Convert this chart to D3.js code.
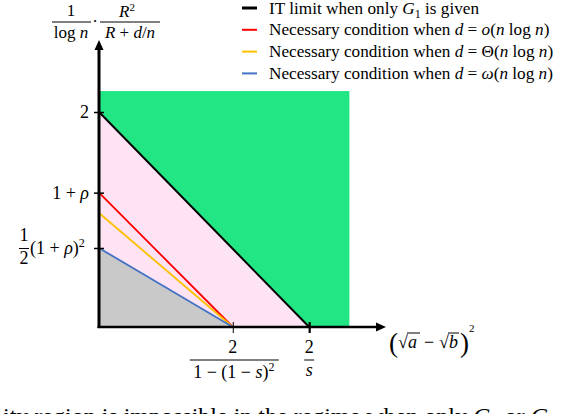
<!DOCTYPE html>
<html>
<head>
<meta charset="utf-8">
<script src="https://cdn.jsdelivr.net/npm/d3@7"></script>
<style>
  html, body { margin: 0; padding: 0; background: #fff; }
  svg { display: block; font-family: "Liberation Serif", "DejaVu Serif", serif; }
  .it { font-style: italic; }
</style>
</head>
<body>
<svg id="chart" width="588" height="414"></svg>
<script>
// ---------- data ----------
const xTickValues = [2.96, 4.65];            // 2/(1-(1-s)^2), 2/s
const yTickValues = [2, 1.25, 0.735];        // 2, 1+rho, 1/2(1+rho)^2
const lineNames = ["IT limit", "o(n log n)", "Theta(n log n)", "omega(n log n)"];
const lineStartY = [2, 1.25, 1.06, 0.735];   // intercept on y axis
const lineEndX = [4.65, 2.96, 2.96, 2.96];   // intercept on x axis
const lineColors = ["#000000", "#ff0000", "#ffc000", "#4472c4"];
const feasibleX = 5.54, feasibleY = 2.195;   // green region extent
const xMax = 6.35, yMax = 2.67;              // axis arrow ends
const legendLabels = [
  'IT limit when only <tspan class="it">G</tspan><tspan font-size="12" dy="4">1</tspan><tspan dy="-4"> is given</tspan>',
  'Necessary condition when <tspan class="it">d</tspan> = <tspan class="it">o</tspan>(<tspan class="it">n</tspan> log <tspan class="it">n</tspan>)',
  'Necessary condition when <tspan class="it">d</tspan> = Θ(<tspan class="it">n</tspan> log <tspan class="it">n</tspan>)',
  'Necessary condition when <tspan class="it">d</tspan> = <tspan class="it">ω</tspan>(<tspan class="it">n</tspan> log <tspan class="it">n</tspan>)'
];

// ---------- scales ----------
const svg = d3.select("#chart");
const x = d3.scaleLinear().domain([0, xMax]).range([99, 386]);
const y = d3.scaleLinear().domain([0, yMax]).range([327, 40]);

// ---------- regions ----------
svg.append("rect")
  .attr("x", x(0)).attr("y", y(feasibleY))
  .attr("width", x(feasibleX) - x(0)).attr("height", y(0) - y(feasibleY))
  .attr("fill", "#22e584");
const tri = (y0, x1) => d3.line()([[x(0), y(y0)], [x(x1), y(0)], [x(0), y(0)]]) + "Z";
svg.append("path").attr("d", tri(lineStartY[0], lineEndX[0])).attr("fill", "#fde3f4");
svg.append("path").attr("d", tri(lineStartY[3], lineEndX[3])).attr("fill", "#c9c9c9");

// ---------- boundary lines ----------
lineNames.forEach((n, i) => {
  svg.append("line")
    .attr("x1", x(0)).attr("y1", y(lineStartY[i]))
    .attr("x2", x(lineEndX[i])).attr("y2", y(0))
    .attr("stroke", lineColors[i]).attr("stroke-width", i === 0 ? 2 : 1.8);
});

// ---------- axes ----------
const yAxis = d3.axisLeft(y).tickValues(yTickValues).tickFormat("").tickSizeOuter(0).tickSize(5);
const gy = svg.append("g").attr("transform", `translate(${x(0)},0)`).call(yAxis);
gy.select(".domain").remove();
gy.selectAll(".tick line").attr("x1", 5).attr("x2", -5).attr("stroke", "#000").attr("stroke-width", 1.5);

const xAxis = d3.axisBottom(x).tickValues(xTickValues).tickFormat("").tickSizeOuter(0).tickSize(6);
const gx = svg.append("g").attr("transform", `translate(0,${y(0)})`).call(xAxis);
gx.select(".domain").remove();
gx.selectAll(".tick line").attr("y1", -5).attr("y2", 6).attr("stroke", "#000")
  .attr("stroke-width", (d, i) => i === 0 ? 1 : 2.2);

// axis lines with arrows
svg.append("line").attr("x1", x(0)).attr("y1", y(0) + 1).attr("x2", x(0)).attr("y2", y(yMax) + 8)
  .attr("stroke", "#000").attr("stroke-width", 3);
svg.append("path")
  .attr("d", `M${x(0)},${y(yMax)} L${x(0) - 4.5},${y(yMax) + 10} L${x(0) + 4.5},${y(yMax) + 10} Z`)
  .attr("fill", "#000");
svg.append("line").attr("x1", x(0) - 1.5).attr("y1", y(0)).attr("x2", x(xMax) - 8).attr("y2", y(0))
  .attr("stroke", "#000").attr("stroke-width", 2.5);
svg.append("path")
  .attr("d", `M${x(xMax)},${y(0)} L${x(xMax) - 10},${y(0) - 4.5} L${x(xMax) - 10},${y(0) + 4.5} Z`)
  .attr("fill", "#000");

// ---------- tick labels ----------
const fs = 18;
svg.append("text").attr("x", 89).attr("y", y(yTickValues[0]) + 6).attr("text-anchor", "end")
  .attr("font-size", fs).text("2");
svg.append("text").attr("x", 89).attr("y", y(yTickValues[1]) + 6).attr("text-anchor", "end")
  .attr("font-size", fs).html('1 + <tspan class="it">ρ</tspan>');
// 1/2 (1+rho)^2
const yh = y(yTickValues[2]);
svg.append("text").attr("x", 24).attr("y", yh - 7).attr("text-anchor", "middle").attr("font-size", fs).text("1");
svg.append("line").attr("x1", 19).attr("x2", 29).attr("y1", yh + 0.5).attr("y2", yh + 0.5).attr("stroke", "#000").attr("stroke-width", 1);
svg.append("text").attr("x", 24).attr("y", yh + 16).attr("text-anchor", "middle").attr("font-size", fs).text("2");
svg.append("text").attr("x", 30).attr("y", yh + 6).attr("font-size", fs)
  .html('(1 + <tspan class="it">ρ</tspan>)<tspan font-size="12" dy="-7">2</tspan>');

// x labels
const xi = x(xTickValues[0]), xo = x(xTickValues[1]);
svg.append("text").attr("x", xi).attr("y", 353).attr("text-anchor", "middle").attr("font-size", fs).text("2");
svg.append("line").attr("x1", xi - 43).attr("x2", xi + 46).attr("y1", 360).attr("y2", 360).attr("stroke", "#000").attr("stroke-width", 1);
svg.append("text").attr("x", xi + 1).attr("y", 378).attr("text-anchor", "middle").attr("font-size", fs)
  .html('1 − (1 − <tspan class="it">s</tspan>)<tspan font-size="12" dy="-7">2</tspan>');
svg.append("text").attr("x", xo).attr("y", 353).attr("text-anchor", "middle").attr("font-size", fs).text("2");
svg.append("line").attr("x1", xo - 5).attr("x2", xo + 5).attr("y1", 360).attr("y2", 360).attr("stroke", "#000").attr("stroke-width", 1);
svg.append("text").attr("x", xo).attr("y", 376).attr("text-anchor", "middle").attr("font-size", fs)
  .attr("class", "it").text("s");

// x axis title (sqrt a - sqrt b)^2
const xt = svg.append("g");
xt.append("text").attr("x", 389).attr("y", 352).attr("font-size", 27).attr("font-weight", 200).text("(");
xt.append("text").attr("x", 398).attr("y", 348).attr("font-size", fs).text("√");
xt.append("line").attr("x1", 407).attr("x2", 420).attr("y1", 333).attr("y2", 333).attr("stroke", "#000").attr("stroke-width", 1);
xt.append("text").attr("x", 408).attr("y", 348).attr("font-size", fs).attr("class", "it").text("a");
xt.append("text").attr("x", 424).attr("y", 348).attr("font-size", fs).text("−");
xt.append("text").attr("x", 439).attr("y", 348).attr("font-size", fs).text("√");
xt.append("line").attr("x1", 448).attr("x2", 459).attr("y1", 333).attr("y2", 333).attr("stroke", "#000").attr("stroke-width", 1);
xt.append("text").attr("x", 449).attr("y", 348).attr("font-size", fs).attr("class", "it").text("b");
xt.append("text").attr("x", 460).attr("y", 352).attr("font-size", 27).attr("font-weight", 200).text(")");
xt.append("text").attr("x", 469).attr("y", 332).attr("font-size", 11).text("2");

// y axis title 1/log n · R^2/(R + d/n)
const yt = svg.append("g");
yt.append("text").attr("x", 71).attr("y", 16).attr("text-anchor", "middle").attr("font-size", 17).text("1");
yt.append("line").attr("x1", 52).attr("x2", 91).attr("y1", 22).attr("y2", 22).attr("stroke", "#000").attr("stroke-width", 1);
yt.append("text").attr("x", 71).attr("y", 38).attr("text-anchor", "middle").attr("font-size", 17)
  .html('log <tspan class="it">n</tspan>');
yt.append("text").attr("x", 95).attr("y", 27).attr("text-anchor", "middle").attr("font-size", 17).text("·");
yt.append("text").attr("x", 127).attr("y", 17).attr("text-anchor", "middle").attr("font-size", 17)
  .html('<tspan class="it">R</tspan><tspan font-size="11" dy="-6">2</tspan>');
yt.append("line").attr("x1", 100).attr("x2", 160).attr("y1", 22).attr("y2", 22).attr("stroke", "#000").attr("stroke-width", 1);
yt.append("text").attr("x", 130).attr("y", 38).attr("text-anchor", "middle").attr("font-size", 17)
  .html('<tspan class="it">R</tspan> + <tspan class="it">d</tspan>/<tspan class="it">n</tspan>');

// ---------- legend ----------
const lg = svg.append("g");
legendLabels.forEach((lab, i) => {
  const yy = 8 + i * 21.8;
  lg.append("line").attr("x1", 242).attr("x2", 257).attr("y1", yy).attr("y2", yy)
    .attr("stroke", lineColors[i]).attr("stroke-width", i === 0 ? 3 : 2);
  lg.append("text").attr("x", 269).attr("y", yy + 5.5).attr("font-size", 17.2).html(lab);
});

// ---------- cropped caption at bottom ----------
svg.append("text").attr("x", 3).attr("y", 424).attr("font-size", 24)
  .html('ity region is impossible in the regime when only <tspan class="it">G</tspan>₁ or <tspan class="it">G</tspan>');
</script>
</body>
</html>
